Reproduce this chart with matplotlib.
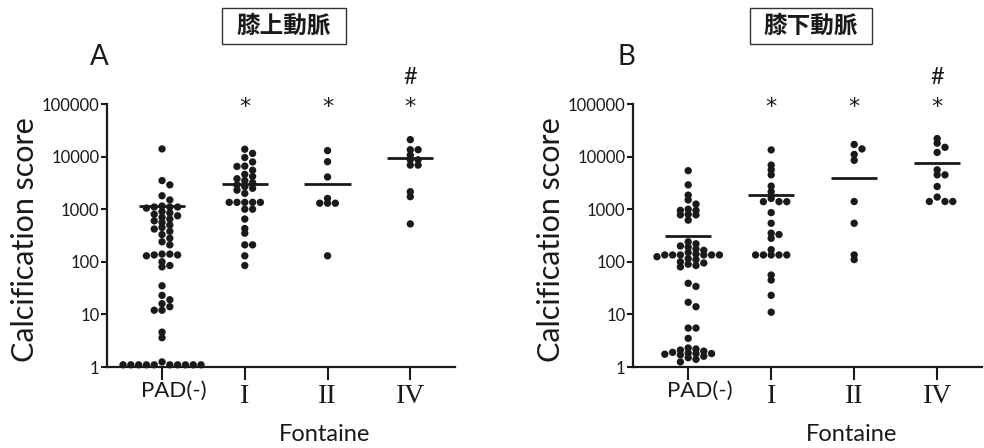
import numpy as np
import matplotlib
matplotlib.use("Agg")
import matplotlib.pyplot as plt
from matplotlib.patches import Rectangle
from matplotlib.ticker import NullLocator
from matplotlib.transforms import ScaledTranslation, blended_transform_factory

# ---------------- data ----------------
categories = ["PAD(-)", "I", "II", "IV"]
ytick_values = [1, 10, 100, 1000, 10000, 100000]
ytick_labels = ["1", "10", "100", "1000", "10000", "100000"]
panel_titles = ["膝上動脈", "膝下動脈"]
panel_letters = ["A", "B"]
star_groups = ["I", "II", "IV"]
hash_groups = ["IV"]

# Panel A (above-knee arteries)
A_pad = [14000, 3500, 2900, 1800, 1500, 1150, 1100, 1100, 1100, 1050, 900, 850,
         800, 750, 700, 650, 600, 560, 500, 450, 420, 380, 330, 280, 240, 210,
         140, 140, 135, 135, 130, 100, 85, 80, 35, 23, 19, 16, 14, 12, 12, 4.6,
         3.6, 1.25, 1.1, 1.1, 1.1, 1.1, 1.1, 1.1, 1.1, 1.1, 1.1, 1.1]
A_I = [13800, 11500, 9600, 7900, 6600, 6500, 5500, 4600, 4200, 3800, 3500, 3200,
       2900, 2700, 2500, 2300, 2000, 1350, 1350, 1350, 1350, 1350, 1000, 1000,
       650, 430, 350, 210, 210, 130, 85]
A_II = [13000, 8000, 4100, 1600, 1300, 1300, 1300, 130]
A_IV = [21000, 13500, 13500, 10700, 8700, 8700, 6900, 6900, 2150, 1730, 525]
A_means = [1150, 3000, 3000, 9300]

# Panel B (below-knee arteries)
B_pad = [5400, 2900, 1850, 1500, 1250, 1000, 950, 950, 800, 780, 780, 620,
         240, 220, 200, 190, 175, 165, 150, 140, 135, 135, 135, 135, 135, 135,
         125, 115, 110, 100, 95, 90, 85, 80, 39, 34, 17, 14, 5.5, 5.5, 3.5,
         2.3, 2.2, 2.1, 2.0, 1.9, 1.85, 1.8, 1.8, 1.75, 1.7, 1.6, 1.5, 1.4, 1.25]
B_I = [13400, 6900, 5600, 4500, 2750, 2150, 1600, 1390, 1390, 1390, 860, 540,
       350, 330, 280, 170, 135, 135, 135, 135, 135, 56, 45, 23, 11]
B_II = [17000, 14000, 11000, 8500, 1400, 540, 135, 110]
B_IV = [22000, 18000, 15000, 12000, 5600, 4500, 4500, 2700, 1700, 1400, 1400, 1400]
B_means = [310, 1900, 3900, 7400]

panels = [
    ([A_pad, A_I, A_II, A_IV], A_means),
    ([B_pad, B_I, B_II, B_IV], B_means),
]

# ---------------- styling ----------------
INK = "#1a1a1a"
LATIN = ["Lato", "DejaVu Sans"]
SERIF = ["Liberation Serif", "DejaVu Serif"]
CJK = ["Noto Sans CJK JP", "DejaVu Sans"]

W, H = 984, 448
fig = plt.figure(figsize=(W / 100, H / 100), dpi=100)


def px_axes(left, right, top, bottom):
    return fig.add_axes([left / W, 1 - bottom / H, (right - left) / W, (bottom - top) / H])


def swarm_x(ax, xc, vals, d=7.8, h=4.5):
    vals = np.asarray(vals, float)
    order = np.argsort(-vals, kind="stable")
    ypix = ax.transData.transform(np.column_stack([np.full(len(vals), xc), vals]))[:, 1]
    ux = ax.transData.transform([(1, 1)])[0, 0] - ax.transData.transform([(0, 1)])[0, 0]
    placed = []
    xs = np.zeros(len(vals))
    for i in order:
        y = ypix[i]
        for k in range(0, 60):
            c = ((k + 1) // 2) * (1 if k % 2 == 1 else -1)
            ok = True
            for (px, py) in placed:
                if abs(c * d - px) < d - 0.01 and abs(y - py) < h:
                    ok = False
                    break
            if ok:
                break
        placed.append((c * d, y))
        xs[i] = xc + c * d / ux
    return xs


axes_px = [(107, 455), (633, 982)]
title_boxes = [(222, 346), (750, 872)]
letter_x = [99, 626]

for p, ((groups, means), (l, r)) in enumerate(zip(panels, axes_px)):
    ax = px_axes(l, r, 104, 367)
    ax.set_yscale("log")
    ax.set_ylim(1, 100000)
    ax.set_xlim(-0.665, 3.54)
    for s in ["top", "right"]:
        ax.spines[s].set_visible(False)
    for s in ["left", "bottom"]:
        ax.spines[s].set_linewidth(1.6)
        ax.spines[s].set_color(INK)
    ax.set_yticks(ytick_values)
    ax.set_yticklabels(ytick_labels)
    ax.yaxis.set_minor_locator(NullLocator())
    ax.tick_params(axis="y", direction="out", length=4.5, width=1.5, pad=1,
                   labelsize=12, colors=INK)
    for lbl in ax.get_yticklabels():
        lbl.set_fontfamily(LATIN)
    ax.set_xticks(range(len(categories)))
    ax.set_xticklabels(categories)
    ax.tick_params(axis="x", direction="out", length=9.5, width=1.5, pad=3,
                   colors=INK)
    xl = ax.get_xticklabels()
    xl[0].set_fontfamily(LATIN)
    xl[0].set_fontsize(16)
    xl[0].set_transform(xl[0].get_transform() + ScaledTranslation(0.12, 0.04, fig.dpi_scale_trans))
    for lbl in xl[1:]:
        lbl.set_fontfamily(SERIF)
        lbl.set_fontsize(20)

    for gi, vals in enumerate(groups):
        xs = swarm_x(ax, gi, vals)
        ax.scatter(xs, vals, s=28, color=INK, edgecolors="none", zorder=3, clip_on=False)
        ax.hlines(means[gi], gi - 0.28, gi + 0.28, color=INK, lw=2.0, zorder=4)

    trans = blended_transform_factory(ax.transData, ax.transAxes)
    for g in star_groups:
        ax.text(categories.index(g), 0.966, "*", transform=trans, ha="center",
                va="baseline", fontsize=16, family=["DejaVu Sans"], color=INK)
    for g in hash_groups:
        ax.text(categories.index(g), 1.076, "#", transform=trans, ha="center",
                va="baseline", fontsize=17, family=LATIN, color=INK)

    ax.set_ylabel("Calcification score", fontsize=22, family=LATIN, color=INK, va="center")
    ax.yaxis.set_label_coords(-0.235, 0.483)
    ax.set_xlabel("Fontaine", fontsize=17, family=LATIN, color=INK, va="center")
    ax.xaxis.set_label_coords(0.626, -0.255)

    # panel letter
    fig.text(letter_x[p] / W, 1 - 57 / H, panel_letters[p], fontsize=20, family=LATIN,
             color=INK, ha="center", va="center")
    # boxed title
    bx0, bx1 = title_boxes[p]
    fig.patches.append(Rectangle((bx0 / W, 1 - 44 / H), (bx1 - bx0) / W, 36 / H,
                                 transform=fig.transFigure, fill=False,
                                 edgecolor="#333333", linewidth=1.0))
    fig.text((bx0 + bx1) / 2 / W, 1 - 26 / H, panel_titles[p], fontsize=17,
             family=CJK, weight="bold", color=INK, ha="center", va="center")

fig.savefig("out.png", dpi=100)
